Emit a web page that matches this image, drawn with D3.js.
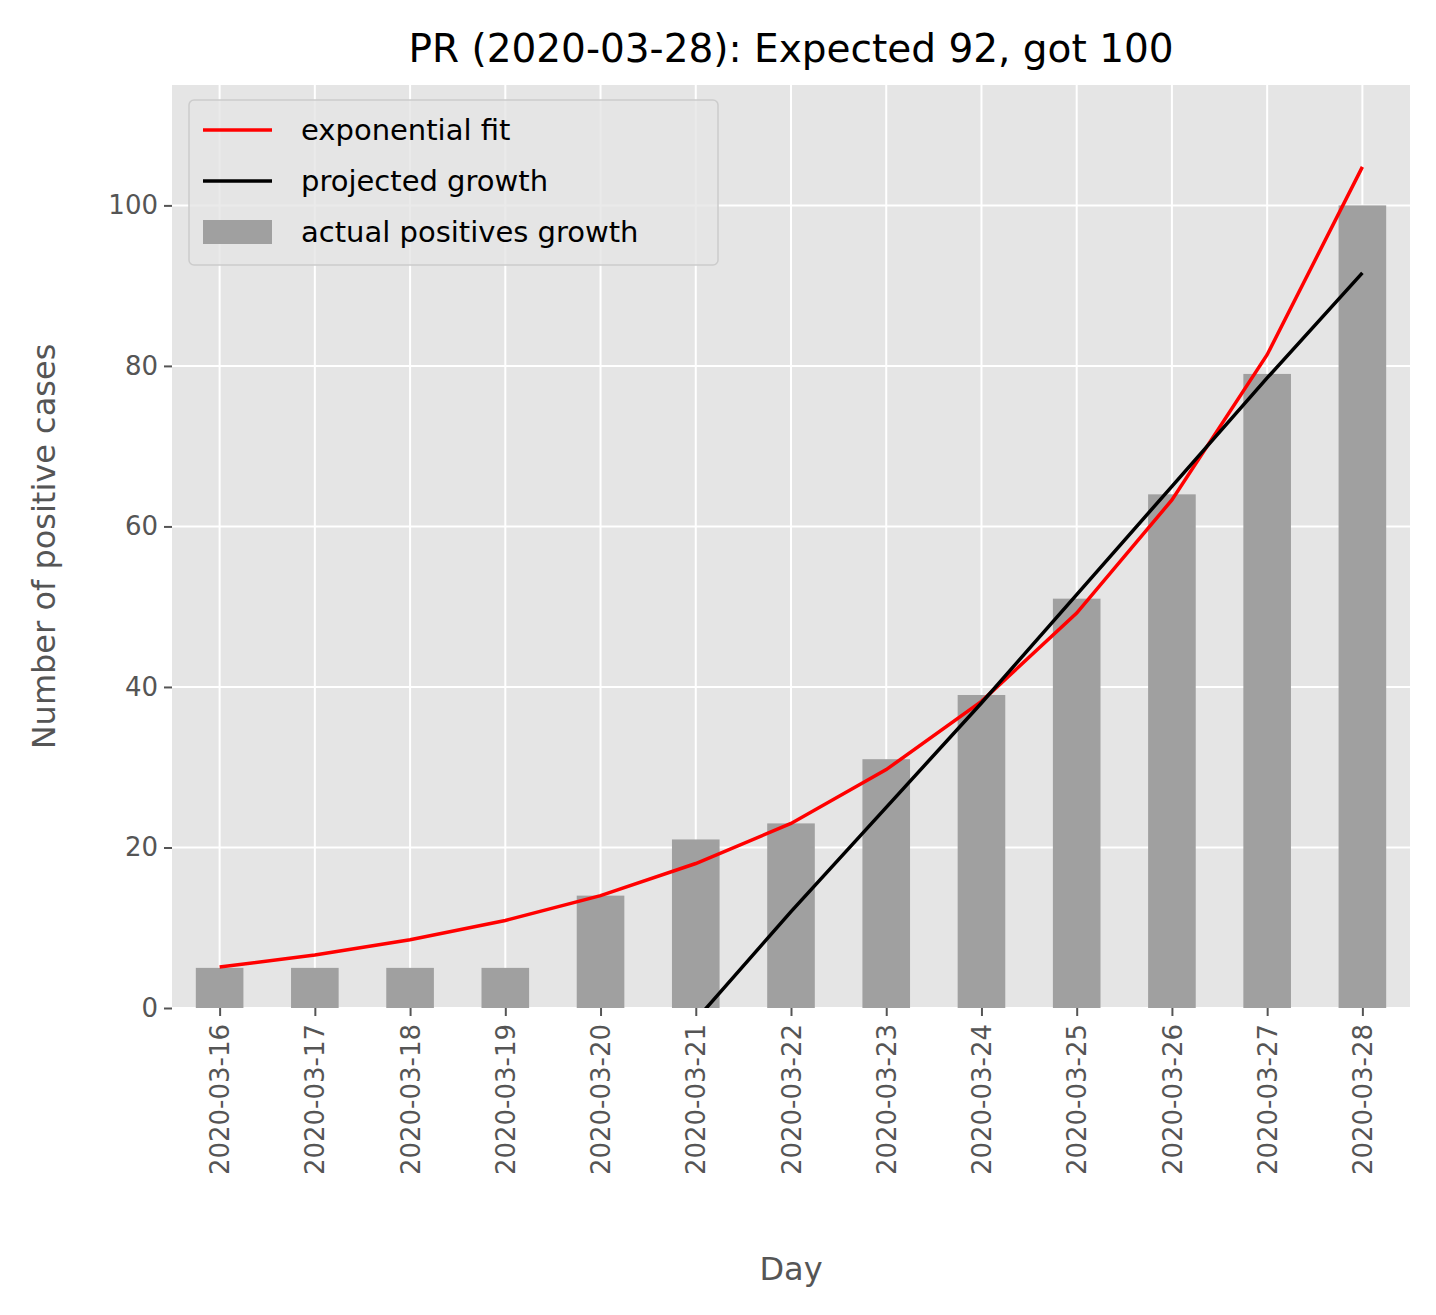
<!DOCTYPE html>
<html>
<head>
<meta charset="utf-8">
<script src="https://cdn.jsdelivr.net/npm/d3@7"></script>
<style>
  body { margin: 0; background: #fff; }
  text { font-family: "DejaVu Sans", sans-serif; }
</style>
</head>
<body>
<svg width="1436" height="1315"></svg>
<script>
const days = ['2020-03-16', '2020-03-17', '2020-03-18', '2020-03-19', '2020-03-20', '2020-03-21', '2020-03-22',
  '2020-03-23', '2020-03-24', '2020-03-25', '2020-03-26', '2020-03-27', '2020-03-28'];
const actual = [5, 5, 5, 5, 14, 21, 23, 31, 39, 51, 64, 79, 100];
const expFit = [5.1, 6.6, 8.5, 10.9, 14, 18, 23, 29.7, 38.2, 49.2, 63.3, 81.4, 104.8];
const projIdx = [5, 6, 7, 8, 9, 10, 11, 12];
const projected = [-1.5, 12, 25, 38, 51.5, 65, 78.5, 91.6];
const yTicks = [0, 20, 40, 60, 80, 100];

const svg = d3.select('svg');
const pLeft = 172, pRight = 1410, pTop = 85, pBottom = 1008;

// band centers at integer positions, range -0.5..12.5
const x = d3.scaleLinear().domain([-0.5, days.length - 0.5]).range([pLeft, pRight]);
const y = d3.scaleLinear().domain([0, 115]).range([pBottom, pTop]);
const bw = (x(1) - x(0)) * 0.5;

svg.append('rect').attr('x', pLeft).attr('y', pTop)
  .attr('width', pRight - pLeft).attr('height', pBottom - pTop).attr('fill', '#e5e5e5');

svg.append('clipPath').attr('id', 'clip').append('rect')
  .attr('x', pLeft).attr('y', pTop).attr('width', pRight - pLeft).attr('height', pBottom - pTop);

// grid
svg.append('g').selectAll('line').data(days).enter().append('line')
  .attr('x1', (d, i) => x(i)).attr('x2', (d, i) => x(i))
  .attr('y1', pTop).attr('y2', pBottom).attr('stroke', '#fff').attr('stroke-width', 2);
svg.append('g').selectAll('line').data(yTicks).enter().append('line')
  .attr('x1', pLeft).attr('x2', pRight)
  .attr('y1', d => y(d)).attr('y2', d => y(d)).attr('stroke', '#fff').attr('stroke-width', 2);

// bars
svg.append('g').selectAll('rect').data(actual).enter().append('rect')
  .attr('x', (d, i) => x(i) - bw / 2).attr('width', bw)
  .attr('y', d => y(d)).attr('height', d => pBottom - y(d))
  .attr('fill', '#a0a0a0');

const plot = svg.append('g').attr('clip-path', 'url(#clip)');
plot.append('path').datum(expFit)
  .attr('d', d3.line().x((d, i) => x(i)).y(d => y(d)))
  .attr('fill', 'none').attr('stroke', 'red').attr('stroke-width', 3.5);
plot.append('path').datum(projected)
  .attr('d', d3.line().x((d, i) => x(projIdx[i])).y(d => y(d)))
  .attr('fill', 'none').attr('stroke', 'black').attr('stroke-width', 3.5);

// axes
const xAxis = svg.append('g').attr('transform', `translate(0,${pBottom})`)
  .call(d3.axisBottom(x).tickValues(d3.range(days.length)).tickFormat(i => days[i]).tickSize(8).tickPadding(6));
xAxis.select('.domain').remove();
xAxis.selectAll('line').attr('stroke', '#555').attr('stroke-width', 2);
xAxis.selectAll('text').attr('fill', '#555').style('font-size', '26px')
  .attr('transform', 'rotate(-90)').attr('text-anchor', 'end')
  .attr('x', -16).attr('y', 0).attr('dy', '0.35em');

const yAxis = svg.append('g').attr('transform', `translate(${pLeft},0)`)
  .call(d3.axisLeft(y).tickValues(yTicks).tickSize(8).tickPadding(6));
yAxis.select('.domain').remove();
yAxis.selectAll('line').attr('stroke', '#555').attr('stroke-width', 2);
yAxis.selectAll('text').attr('fill', '#555').style('font-size', '26px');

svg.append('text').attr('x', (pLeft + pRight) / 2).attr('y', 1280).attr('text-anchor', 'middle')
  .attr('fill', '#555').style('font-size', '32px').text('Day');
svg.append('text').attr('transform', `translate(55,${(pTop + pBottom) / 2}) rotate(-90)`)
  .attr('text-anchor', 'middle').attr('fill', '#555').style('font-size', '32px').text('Number of positive cases');
svg.append('text').attr('x', (pLeft + pRight) / 2).attr('y', 62).attr('text-anchor', 'middle')
  .attr('fill', '#000').style('font-size', '39px').text('PR (2020-03-28): Expected 92, got 100');

// legend
const lg = svg.append('g');
lg.append('rect').attr('x', 189).attr('y', 100).attr('width', 529).attr('height', 165).attr('rx', 5)
  .attr('fill', '#e5e5e5').attr('fill-opacity', 0.8).attr('stroke', '#ccc').attr('stroke-width', 1.5);
const items = [
  { label: 'exponential fit', type: 'line', color: 'red' },
  { label: 'projected growth', type: 'line', color: 'black' },
  { label: 'actual positives growth', type: 'bar', color: '#a0a0a0' }
];
items.forEach((it, i) => {
  const cy = 130 + i * 51;
  if (it.type === 'line') {
    lg.append('line').attr('x1', 203).attr('x2', 272).attr('y1', cy).attr('y2', cy)
      .attr('stroke', it.color).attr('stroke-width', 3.5);
  } else {
    lg.append('rect').attr('x', 203).attr('y', cy - 12).attr('width', 69).attr('height', 24).attr('fill', it.color);
  }
  lg.append('text').attr('x', 301).attr('y', cy).attr('dy', '0.35em')
    .style('font-size', '29px').attr('fill', '#000').text(it.label);
});
</script>
</body>
</html>
